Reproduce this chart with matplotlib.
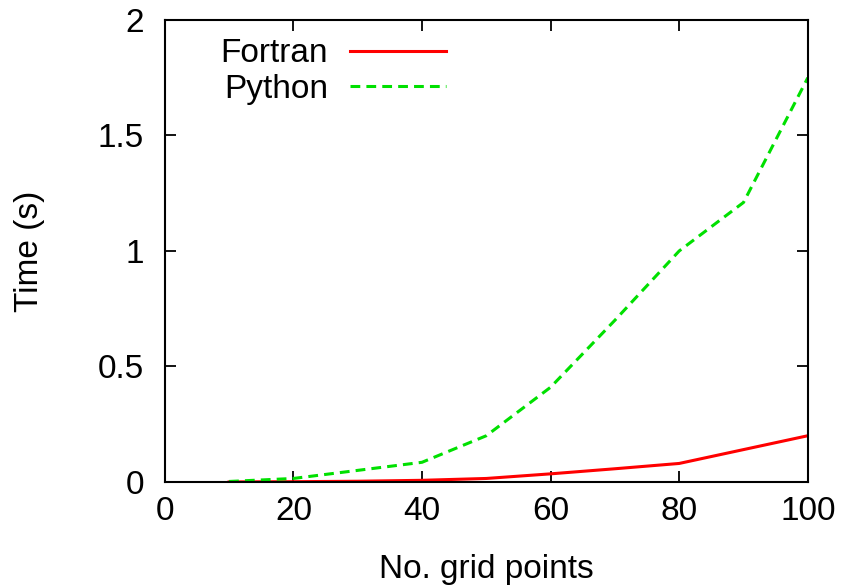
import matplotlib.pyplot as plt

grid_points = [10, 20, 30, 40, 50, 60, 70, 80, 90, 100]
fortran_time = [0.0, 0.001, 0.003, 0.007, 0.015, 0.035, 0.057, 0.08, 0.14, 0.2]
python_time = [0.002, 0.015, 0.05, 0.085, 0.2, 0.41, 0.70, 1.0, 1.21, 1.75]

plt.rcParams['font.family'] = ['Liberation Sans', 'DejaVu Sans']
plt.rcParams['font.size'] = 24

fig = plt.figure(figsize=(8.45, 5.87), dpi=100)
ax = fig.add_axes([0.195, 0.179, 0.761, 0.787])

ax.plot(grid_points, fortran_time, color='#ff0000', lw=2.2, label='Fortran')
ax.plot(grid_points, python_time, color='#00e000', lw=2.2, ls=(0, (3.2, 2)), label='Python')

ax.set_xlim(0, 100)
ax.set_ylim(0, 2)
ax.set_xticks([0, 20, 40, 60, 80, 100])
ax.set_yticks([0, 0.5, 1, 1.5, 2])
ax.set_yticklabels(['0', '0.5', '1', '1.5', '2'])
ax.tick_params(direction='in', length=8, width=1.3, top=True, right=True)
ax.tick_params(axis='x', pad=10)
ax.tick_params(axis='y', pad=15)
for s in ax.spines.values():
    s.set_linewidth(1.5)

ax.set_xlabel('No. grid points')
ax.set_ylabel('Time (s)')
ax.xaxis.set_label_coords(0.5, -0.155)
ax.yaxis.set_label_coords(-0.187, 0.5)

ax.legend(loc='upper left', bbox_to_anchor=(0.04, 1.025), frameon=False, markerfirst=False,
          handlelength=2.9, handletextpad=0.65, labelspacing=0.14)

fig.savefig('out.png', dpi=100)
